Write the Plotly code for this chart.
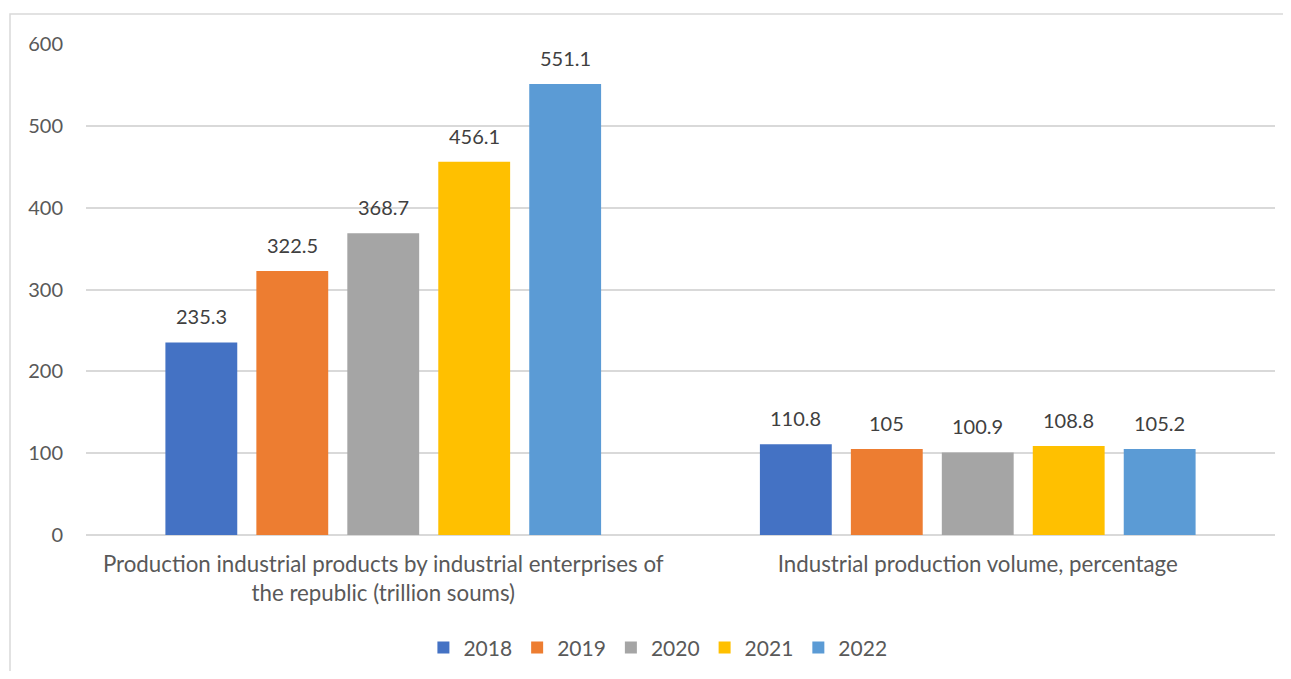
import plotly.graph_objects as go

categories = [
    "Production industrial products by industrial enterprises of<br>the republic (trillion soums)",
    "Industrial production volume, percentage",
]
years = ["2018", "2019", "2020", "2021", "2022"]
values = {
    "2018": [235.3, 110.8],
    "2019": [322.5, 105],
    "2020": [368.7, 100.9],
    "2021": [456.1, 108.8],
    "2022": [551.1, 105.2],
}
colors = ["#4472C4", "#ED7D31", "#A5A5A5", "#FFC000", "#5B9BD5"]
y_ticks = [0, 100, 200, 300, 400, 500, 600]

FONT = "Lato"
TXT = "#595959"

fig = go.Figure()
for yr, col in zip(years, colors):
    fig.add_trace(go.Bar(
        name=yr, x=categories, y=values[yr], marker_color=col,
        marker_line_width=0,
    ))

# page body has an 8px margin, so the figure is 8px smaller each way
W, H = 1283, 663
ml, mr, mt, mb = 78, 16, 36, 136
plot_w = W - ml - mr
plot_h = H - mt - mb
bargap, bargroupgap = 0.235, 0.21
slot = plot_w / len(categories) * (1 - bargap) / len(years)
for i, yr in enumerate(years):
    for c, v in zip(categories, values[yr]):
        fig.add_annotation(
            x=c, y=v, xref="x", yref="y", text=f"{v:g}", showarrow=False,
            xshift=(i - (len(years) - 1) / 2) * slot, yshift=12,
            yanchor="bottom", font=dict(family=FONT, size=20, color="#404040"),
        )

fig.add_shape(
    type="rect", xref="paper", yref="paper",
    x0=(2 - ml) / plot_w, x1=1.05, y0=-0.5, y1=1 + (mt - 6) / plot_h,
    line=dict(color="#d9d9d9", width=1.5), fillcolor="rgba(0,0,0,0)", layer="below",
)

fig.update_layout(
    width=W, height=H,
    margin=dict(l=ml, r=mr, t=mt, b=mb, autoexpand=False),
    paper_bgcolor="white", plot_bgcolor="white",
    barmode="group", bargap=bargap, bargroupgap=bargroupgap,
    font=dict(family=FONT, size=20, color=TXT),
    showlegend=True,
    legend=dict(orientation="h", x=0.481, xanchor="center", y=-0.23, yanchor="middle",
                font=dict(family=FONT, size=21, color=TXT), itemwidth=30,
                traceorder="normal"),
    xaxis=dict(showgrid=False, showline=False, ticks="", ticklabelstandoff=14,
               tickfont=dict(family=FONT, size=22.3, color=TXT)),
    yaxis=dict(range=[0, 600], tickvals=y_ticks, showgrid=True, gridcolor="#d9d9d9",
               gridwidth=1.5, zeroline=True, zerolinecolor="#d9d9d9", zerolinewidth=1.5,
               showline=False, ticks="", ticklabelstandoff=22,
               tickfont=dict(family=FONT, size=20, color=TXT)),
)

fig.write_html("out.html")
